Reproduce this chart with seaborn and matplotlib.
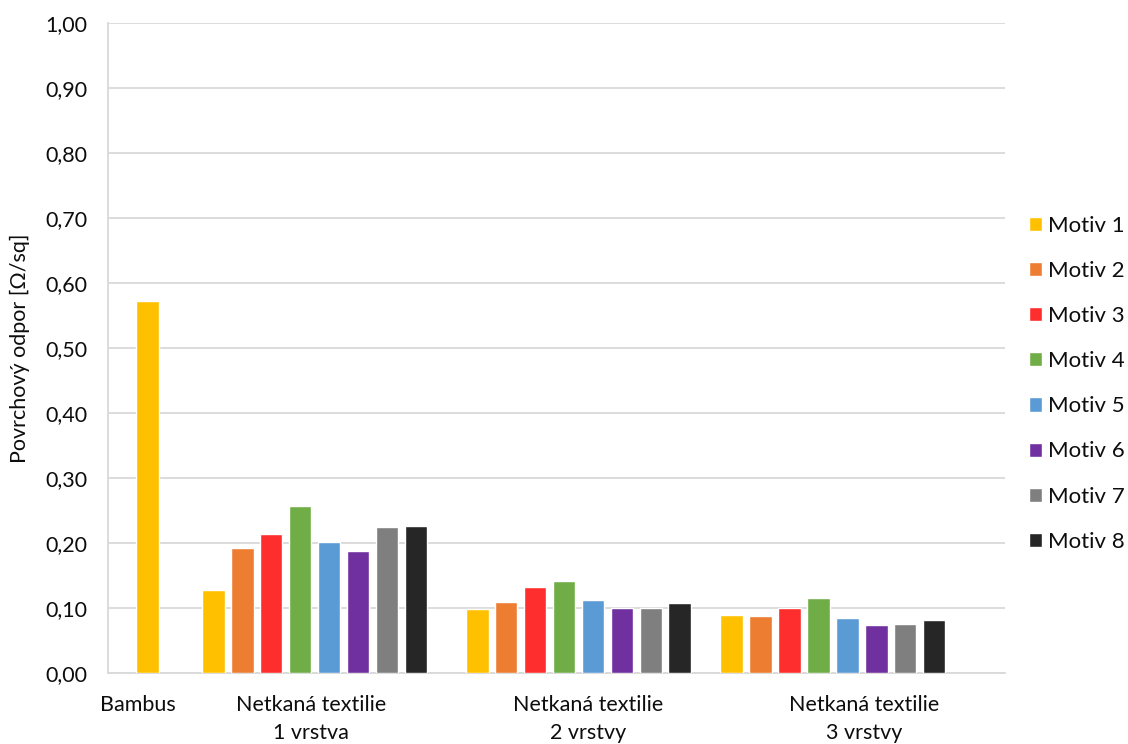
import matplotlib
matplotlib.use("Agg")
import matplotlib.pyplot as plt
import seaborn as sns
import pandas as pd

# --- data -------------------------------------------------------------
categories = ["Bambus",
              "Netkaná textilie\n1 vrstva",
              "Netkaná textilie\n2 vrstvy",
              "Netkaná textilie\n3 vrstvy"]
motivy = ["Motiv 1", "Motiv 2", "Motiv 3", "Motiv 4",
          "Motiv 5", "Motiv 6", "Motiv 7", "Motiv 8"]

bambus = [0.573]                                                   # Motiv 1 only
vrstva_1 = [0.128, 0.193, 0.214, 0.257, 0.201, 0.187, 0.224, 0.226]
vrstvy_2 = [0.099, 0.110, 0.132, 0.142, 0.113, 0.100, 0.100, 0.107]
vrstvy_3 = [0.090, 0.088, 0.100, 0.116, 0.084, 0.074, 0.076, 0.082]
y_ticks = [0.0, 0.1, 0.2, 0.3, 0.4, 0.5, 0.6, 0.7, 0.8, 0.9, 1.0]

colors = ["#FFC000", "#ED7D31", "#FF2E2E", "#70AD47",
          "#5B9BD5", "#7030A0", "#7F7F7F", "#262626"]

# --- layout (x in units of one bar slot) --------------------------------
group_centers = [1.37, 7.14, 16.26, 25.05]
label_centers = [1.02, 7.01, 16.59, 26.12]
x_limits = (0, 31)
bar_width = 0.78

groups = [bambus, vrstva_1, vrstvy_2, vrstvy_3]
rows = []
for center, vals in zip(group_centers, groups):
    n = len(vals)
    for i, v in enumerate(vals):
        rows.append({"pos": center + (i - (n - 1) / 2),
                     "odpor": v,
                     "motiv": motivy[i]})
df = pd.DataFrame(rows)

# --- figure -------------------------------------------------------------
sns.set_theme(style="white")
plt.rcParams["font.family"] = ["Lato", "DejaVu Sans"]
text_color = "#0d0d0d"

fig = plt.figure(figsize=(11.28, 7.44), dpi=100)
ax = fig.add_axes([108 / 1128, 1 - 673 / 744, 897 / 1128, 650 / 744])

sns.barplot(data=df, x="pos", y="odpor", hue="motiv", hue_order=motivy,
            palette=colors, native_scale=True, dodge=False,
            width=bar_width, saturation=1, ax=ax, zorder=3)

ax.set_xlim(*x_limits)
ax.set_ylim(0, 1.0)
ax.set_yticks(y_ticks)
ax.set_yticklabels([f"{t:.2f}".replace(".", ",") for t in y_ticks],
                   fontsize=15.5, color=text_color)
ax.set_xticks(label_centers)
ax.set_xticklabels(categories, fontsize=15.5, color=text_color,
                   linespacing=1.5, va="top")
ax.tick_params(axis="both", length=0)
ax.tick_params(axis="y", pad=15)
ax.tick_params(axis="x", pad=16)

ax.set_xlabel("")
ax.set_ylabel("Povrchový odpor [Ω/sq]", fontsize=15.5, color=text_color,
              labelpad=11)

grid_color = "#D9D9D9"
ax.yaxis.grid(True, color=grid_color, linewidth=1.3, zorder=0)
ax.xaxis.grid(False)
for side in ["top", "right"]:
    ax.spines[side].set_visible(False)
for side in ["left", "bottom"]:
    ax.spines[side].set_visible(True)
    ax.spines[side].set_color(grid_color)
    ax.spines[side].set_linewidth(1.3)

sns.move_legend(ax, "center left", bbox_to_anchor=((1029 - 108) / 897, 0.445),
                title=None, frameon=False, fontsize=16,
                handlelength=0.6, handleheight=0.6, handletextpad=0.25,
                labelspacing=1.13, borderpad=0, borderaxespad=0)
for t in ax.get_legend().get_texts():
    t.set_color(text_color)

fig.savefig("out.png", dpi=100)
